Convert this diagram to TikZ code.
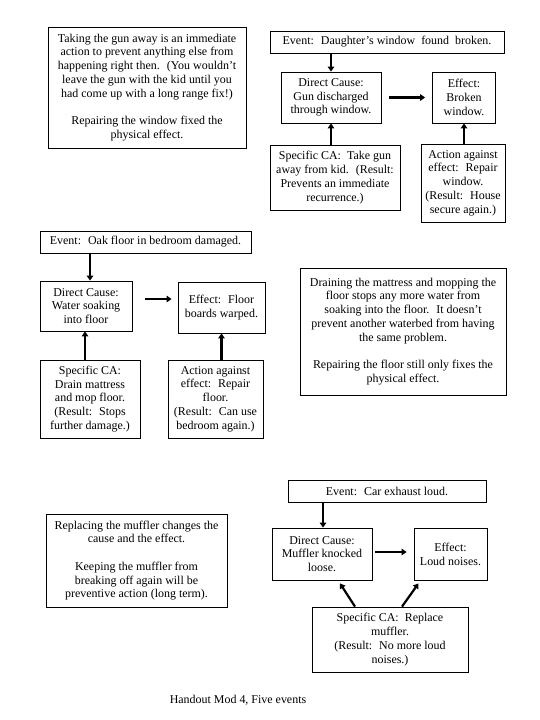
\documentclass[tikz,border=0pt]{standalone}
\usepackage{fontspec}
\setmainfont{Liberation Serif}
\usetikzlibrary{arrows.meta}
\tikzset{
  box/.style={draw, line width=0.8bp, align=center, inner sep=0pt,
    font=\fontsize{12}{13.8}\selectfont},
  arr/.style={-{Triangle[length=5bp,width=6.5bp]}, line width=2.2bp},
  plain/.style={align=center, inner sep=0pt, font=\fontsize{12}{13.8}\selectfont}
}
\begin{document}
\begin{tikzpicture}[x=1bp, y=-1bp]
\useasboundingbox[fill=white] (0,0) rectangle (540,720);

% ---------- Event 1 ----------
\node[box, minimum width=198bp, minimum height=121bp] (noteA) at (147,87.5)
  {Taking the gun away is an immediate\\ action to prevent anything else from\\ happening right then.~ (You wouldn’t\\ leave the gun with the kid until you\\ had come up with a long range fix!)\\[13.8bp] Repairing the window fixed the\\ physical effect.};
\node[box, minimum width=234bp, minimum height=22bp] (ev1) at (387,42)
  {Event:~ Daughter’s window~ found~ broken.};
\node[box, minimum width=100bp, minimum height=51bp] (dc1) at (331,97.5)
  {Direct Cause:\\ Gun discharged\\ through window.};
\node[box, minimum width=63bp, minimum height=51bp] (ef1) at (464,97.5)
  {Effect:\\ Broken\\ window.};
\node[box, minimum width=130bp, minimum height=65bp] (sca1) at (335,177.5)
  {Specific CA:~ Take gun\\ away from kid.~ (Result:\\ Prevents an immediate\\ recurrence.)};
\node[box, minimum width=84bp, minimum height=78bp] (aae1) at (463,183)
  {Action against\\ effect:~ Repair\\ window.\\ (Result:~ House\\ secure again.)};

\draw[arr] (ev1.south -| dc1.north) -- (dc1.north);
\draw[arr, shorten <=8bp, shorten >=7bp] (dc1.east) -- (ef1.west);
\draw[arr] (sca1.north -| dc1.south) -- (dc1.south);
\draw[arr] (aae1.north -| ef1.south) -- (ef1.south);

% ---------- Event 2 ----------
\node[box, minimum width=211bp, minimum height=22bp] (ev2) at (145.5,242)
  {Event:~ Oak floor in bedroom damaged.};
\node[box, minimum width=92bp, minimum height=50bp] (dc2) at (86,306)
  {Direct Cause:\\ Water soaking\\ into floor};
\node[box, minimum width=87bp, minimum height=51bp] (ef2) at (221.5,307.5)
  {Effect:~ Floor\\ boards warped.};
\node[box, minimum width=100bp, minimum height=78bp] (sca2) at (90,399)
  {Specific CA:\\ Drain mattress\\ and mop floor.\\ (Result:~ Stops\\ further damage.)};
\node[box, minimum width=95bp, minimum height=78bp] (aae2) at (215.5,399)
  {Action against\\ effect:~ Repair\\ floor.\\ (Result:~ Can use\\ bedroom again.)};
\node[box, minimum width=206bp, minimum height=127bp] (noteB) at (403,331.5)
  {Draining the mattress and mopping the\\ floor stops any more water from\\ soaking into the floor.~ It doesn’t\\ prevent another waterbed from having\\ the same problem.\\[13.8bp] Repairing the floor still only fixes the\\ physical effect.};

\draw[arr] ([xshift=4bp]ev2.south -| dc2.north) -- ([xshift=4bp]dc2.north);
\draw[arr] ([shift={(13,-7)}]dc2.east) -- ([shift={(-6,-8.5)}]ef2.west);
\draw[arr] ([xshift=-1bp]sca2.north -| dc2.south) -- ([xshift=-1bp]dc2.south);
\draw[arr] (aae2.north -| ef2.south) -- (ef2.south);

% ---------- Event 3 ----------
\node[box, minimum width=198bp, minimum height=22bp] (ev3) at (387,491)
  {Event:~ Car exhaust loud.};
\node[box, minimum width=100bp, minimum height=52bp] (dc3) at (322,554)
  {Direct Cause:\\ Muffler knocked\\ loose.};
\node[box, minimum width=73bp, minimum height=52bp] (ef3) at (450.5,554)
  {Effect:\\ Loud noises.};
\node[box, minimum width=156bp, minimum height=65bp] (sca3) at (390,639.5)
  {Specific CA:~ Replace\\ muffler.\\ (Result:~ No more loud\\ noises.)};
\node[box, minimum width=181bp, minimum height=93bp] (noteC) at (136.5,560.5)
  {Replacing the muffler changes the\\ cause and the effect.\\[13.8bp] Keeping the muffler from\\ breaking off again will be\\ preventive action (long term).};

\draw[arr] ([xshift=1bp]ev3.south -| dc3.north) -- ([xshift=1bp]dc3.north);
\draw[arr, shorten <=3bp, shorten >=7bp] ([yshift=2bp]dc3.east) -- ([yshift=2bp]ef3.west);
\draw[arr] ([shift={(-35,0)}]sca3.north) -- ([shift={(18,3)}]dc3.south);
\draw[arr] ([shift={(12,0)}]sca3.north) -- ([shift={(-32,3)}]ef3.south);

% ---------- Footer ----------
\node[plain] (foot) at (238,700) {Handout Mod 4, Five events};
\end{tikzpicture}
\end{document}
